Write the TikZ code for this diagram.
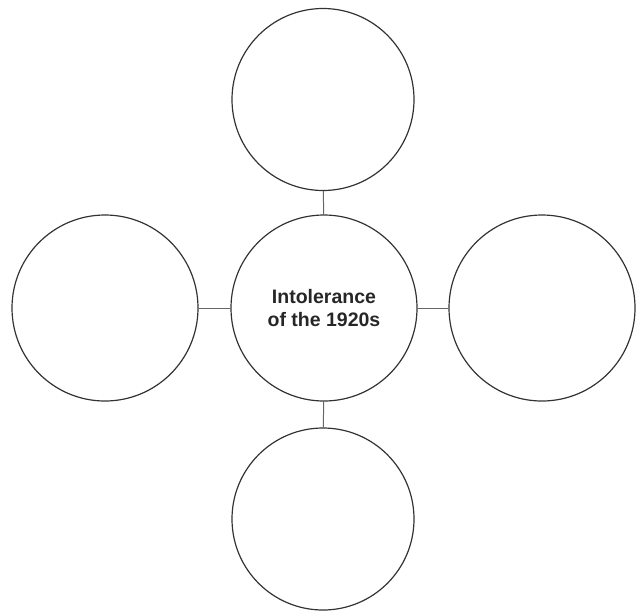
\documentclass[tikz,border=0pt]{standalone}
\usepackage{fontspec}
\setmainfont{Liberation Sans}
\begin{document}
\begin{tikzpicture}[x=1pt,y=-1pt,
  bubble/.style={circle,draw=black!80,line width=1.2pt,minimum size=184pt,inner sep=0pt},
  hub/.style={bubble,minimum size=186pt,align=center,font=\fontsize{19.5}{22.7}\selectfont\bfseries,text=black!85},
  link/.style={draw=black!60,line width=1pt}]
\useasboundingbox (0,0) rectangle (639,611);
\node[hub] (c) at (324,308) {Intolerance\\of the 1920s};
\node[bubble,minimum size=182pt] (t) at (323,99.5) {};
\node[bubble,minimum size=182pt] (b) at (323,519) {};
\node[bubble,minimum size=186pt] (l) at (105,308) {};
\node[bubble,minimum size=186pt] (r) at (542,308) {};
\draw[link] (t) -- (c);
\draw[link] (c) -- (b);
\draw[link] (l) -- (c);
\draw[link] (c) -- (r);
\end{tikzpicture}
\end{document}
